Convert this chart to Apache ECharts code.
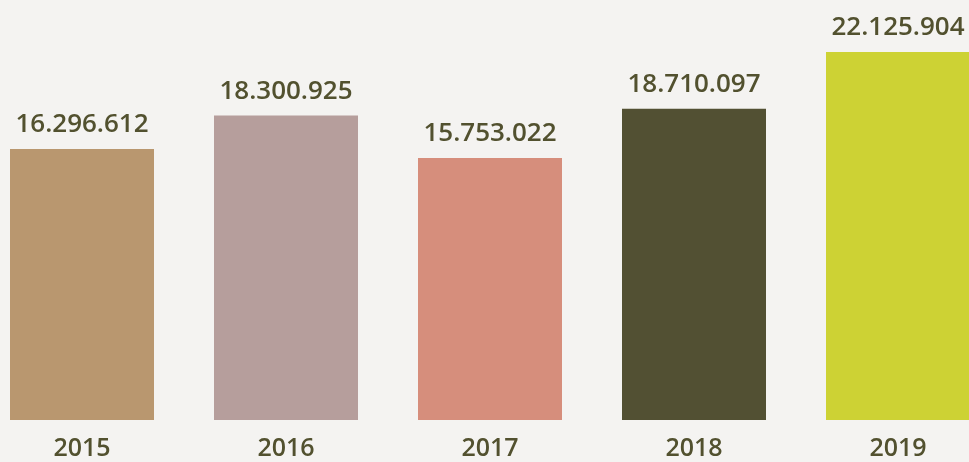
<!DOCTYPE html>
<html>
<head>
<meta charset="utf-8">
<script src="https://cdn.jsdelivr.net/npm/echarts@6/dist/echarts.min.js"></script>
<style>
html, body { margin: 0; padding: 0; background: #f4f3f1; overflow: hidden; }
#chart { width: 1020px; height: 462px; margin-left: -20px; }
</style>
</head>
<body>
<div id="chart"></div>
<script>
const years = ['2015', '2016', '2017', '2018', '2019']
const totals = [16296612, 18300925, 15753022, 18710097, 22125904]
const barColors = ['#b9976f', '#b69e9c', '#d68e7c', '#525033', '#cdd234']

const textColor = '#52512f'

function fmt(v) {
    return String(v).replace(/\B(?=(\d{3})+(?!\d))/g, '.')
}

let chart = echarts.init(document.getElementById('chart'), null, { renderer: 'canvas' })
chart.setOption({
    backgroundColor: '#f4f3f1',
    animation: false,
    grid: { left: 0, right: 0, top: 52, bottom: 42, containLabel: false },
    xAxis: {
        type: 'category',
        data: years,
        axisLine: { show: false },
        axisTick: { show: false },
        axisLabel: {
            color: textColor,
            fontFamily: 'Open Sans',
            fontWeight: 600,
            fontSize: 25,
            margin: 16
        }
    },
    yAxis: {
        type: 'value',
        min: 0,
        max: 'dataMax',
        show: false,
        splitLine: { show: false }
    },
    series: [{
        type: 'bar',
        barWidth: 144,
        data: totals.map((v, i) => ({ value: v, itemStyle: { color: barColors[i] } })),
        label: {
            show: true,
            position: 'top',
            distance: 11,
            color: textColor,
            fontFamily: 'Open Sans',
            fontWeight: 600,
            fontSize: 26,
            formatter: p => fmt(p.value)
        }
    }]
})
</script>
</body>
</html>
